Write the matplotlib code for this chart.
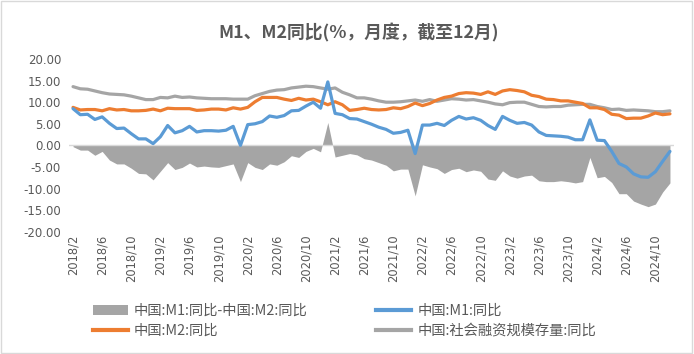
import matplotlib
matplotlib.use("Agg")
import matplotlib.pyplot as plt
from matplotlib.patches import Patch, Rectangle
from matplotlib.lines import Line2D
import numpy as np

plt.rcParams['font.family'] = ['Noto Sans CJK SC', 'DejaVu Sans']

# Monthly data, 2018/2 .. 2024/12
start_year, start_month = 2018, 2
m1 = [8.5, 7.1, 7.2, 6.0, 6.6, 5.1, 3.9, 4.0, 2.7, 1.5, 1.5,
      0.4, 2.0, 4.6, 2.9, 3.4, 4.4, 3.1, 3.4, 3.4, 3.3, 3.5, 4.4,
      0.0, 4.8, 5.0, 5.5, 6.8, 6.5, 6.9, 8.0, 8.1, 9.1, 10.0, 8.6,
      14.7, 7.4, 7.1, 6.2, 6.1, 5.5, 4.9, 4.2, 3.7, 2.8, 3.0, 3.5,
      -1.9, 4.7, 4.7, 5.1, 4.6, 5.8, 6.7, 6.1, 6.4, 5.8, 4.6, 3.7,
      6.7, 5.8, 5.1, 5.3, 4.7, 3.1, 2.3, 2.2, 2.1, 1.9, 1.3, 1.3,
      5.9, 1.2, 1.1, -1.4, -4.2, -5.0, -6.6, -7.3, -7.4, -6.1, -3.7, -1.4]
m2 = [8.8, 8.2, 8.3, 8.3, 8.0, 8.5, 8.2, 8.3, 8.0, 8.0, 8.1,
      8.4, 8.0, 8.6, 8.5, 8.5, 8.5, 8.1, 8.2, 8.4, 8.4, 8.2, 8.7,
      8.4, 8.8, 10.1, 11.1, 11.1, 11.1, 10.7, 10.4, 10.9, 10.5, 10.7, 10.1,
      9.4, 10.1, 9.4, 8.1, 8.3, 8.6, 8.3, 8.2, 8.3, 8.7, 8.5, 9.0,
      9.8, 9.2, 9.7, 10.5, 11.1, 11.4, 12.0, 12.2, 12.1, 11.8, 12.4, 11.8,
      12.6, 12.9, 12.7, 12.4, 11.6, 11.3, 10.7, 10.6, 10.3, 10.3, 10.0, 9.7,
      8.7, 8.7, 8.3, 7.2, 7.0, 6.2, 6.3, 6.3, 6.8, 7.5, 7.1, 7.3]
tsf = [13.6, 13.1, 13.0, 12.6, 12.2, 11.9, 11.8, 11.7, 11.4, 11.0, 10.6,
       10.6, 11.1, 11.0, 11.4, 11.1, 11.2, 11.0, 10.9, 10.8, 10.8, 10.8, 10.7,
       10.7, 10.7, 11.5, 12.0, 12.5, 12.8, 12.9, 13.3, 13.5, 13.7, 13.6, 13.3,
       13.0, 13.3, 12.3, 11.7, 11.0, 11.0, 10.7, 10.3, 10.0, 10.0, 10.1, 10.3,
       10.5, 10.2, 10.6, 10.2, 10.5, 10.8, 10.7, 10.5, 10.6, 10.3, 10.0, 9.6,
       9.4, 9.9, 10.0, 10.0, 9.5, 9.0, 8.9, 9.0, 9.0, 9.3, 9.4, 9.5,
       9.5, 9.0, 8.7, 8.3, 8.4, 8.1, 8.2, 8.1, 8.0, 7.8, 7.8, 8.0]

title = "M1、M2同比(%，月度，截至12月)"
labels_legend = ["中国:M1:同比-中国:M2:同比", "中国:M1:同比", "中国:M2:同比", "中国:社会融资规模存量:同比"]
yticks = [-20, -15, -10, -5, 0, 5, 10, 15, 20]

n = len(m1)
months = []
for i in range(n):
    t = start_month - 1 + i
    months.append(f"{start_year + t // 12}/{t % 12 + 1}")
x = np.arange(n)
gap = np.array(m1) - np.array(m2)

c_blue = '#5B9BD5'
c_orange = '#ED7D31'
c_gray = '#A5A5A5'
c_text = '#595959'

fig = plt.figure(figsize=(6.94, 3.54), dpi=100)
fig.patches.append(Rectangle((0.002, 0.004), 0.995, 0.992, transform=fig.transFigure,
                             fill=False, edgecolor='#D9D9D9', linewidth=1.0))
ax = fig.add_axes([0.100, 0.3455, 0.8706, 0.4878])

ax.fill_between(x, 0, gap, color=c_gray, linewidth=0, zorder=1)
ax.axhline(0, color='#D9D9D9', linewidth=1.0, zorder=2)
ax.plot(x, tsf, color=c_gray, linewidth=2.3, zorder=3, solid_capstyle='round')
ax.plot(x, m2, color=c_orange, linewidth=2.3, zorder=4, solid_capstyle='round')
ax.plot(x, m1, color=c_blue, linewidth=2.3, zorder=5, solid_capstyle='round')

ax.set_xlim(-0.5, n - 0.5)
ax.set_ylim(-20, 20)
ax.set_yticks(yticks)
ax.set_yticklabels([f"{v:.2f}" for v in yticks], color=c_text, fontsize=8.5,
                   family='DejaVu Sans')
tick_idx = list(range(0, n, 4))
ax.set_xticks(tick_idx)
ax.set_xticklabels([months[i] for i in tick_idx], rotation=90, color=c_text,
                   fontsize=8.3, family='DejaVu Sans')
ax.tick_params(axis='both', length=0)
ax.tick_params(axis='x', pad=2)
ax.tick_params(axis='y', pad=6)
for s in ax.spines.values():
    s.set_visible(False)

fig.text(0.5166, 0.907, title, ha='center', va='center', fontsize=12.8,
         fontweight='bold', color=c_text)

handles = [Patch(facecolor=c_gray, edgecolor='none'),
           Line2D([], [], color=c_orange, linewidth=3),
           Line2D([], [], color=c_blue, linewidth=3),
           Line2D([], [], color=c_gray, linewidth=3)]
leg_labels = [labels_legend[0], labels_legend[2], labels_legend[1], labels_legend[3]]
fig.legend(handles, leg_labels, loc='center left', bbox_to_anchor=(0.115, 0.093),
           ncol=2, frameon=False, fontsize=10.3, labelcolor=c_text,
           handlelength=2.45, handleheight=0.7, columnspacing=4.8,
           labelspacing=0.4, handletextpad=0.42)

fig.savefig("out.png", dpi=100)
